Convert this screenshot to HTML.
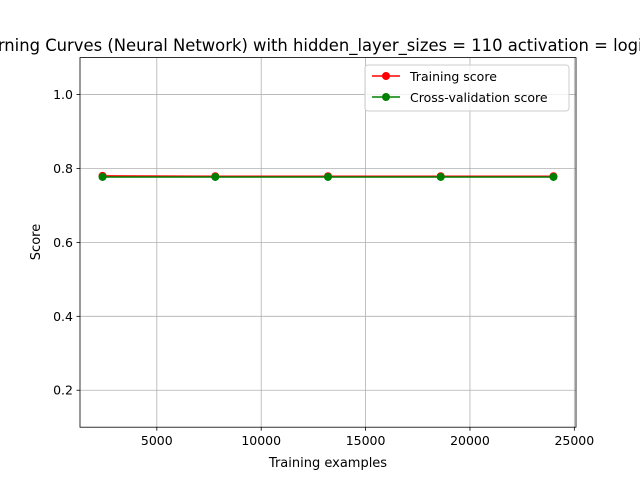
<!DOCTYPE html>
<html><head><meta charset="utf-8"><style>
body{margin:0;background:#fff;width:640px;height:480px;overflow:hidden}
svg{font-family:"DejaVu Sans","Liberation Sans",sans-serif}
</style></head><body>
<svg id="chart" width="640" height="480" xmlns="http://www.w3.org/2000/svg">
<rect width="640" height="480" fill="#fff"/>
<g id="grid"></g>
<g id="bands"></g>
<g id="series"></g>
<rect x="80" y="57.6" width="496" height="369.6" fill="none" stroke="#000" stroke-width="0.8"/>
<g id="ticks" font-size="12.5"></g>
<text x="320" y="51" text-anchor="middle" font-size="16.4">Learning Curves (Neural Network) with hidden_layer_sizes = 110 activation = logistic</text>
<text x="328" y="467" text-anchor="middle" font-size="13">Training examples</text>
<text transform="translate(40,242) rotate(-90)" text-anchor="middle" font-size="13">Score</text>
<g>
<rect x="365" y="65" width="204" height="46" rx="3" fill="#fff" fill-opacity="0.8" stroke="#ccc"/>
<line x1="372" y1="76" x2="400" y2="76" stroke="red" stroke-width="1.5"/><circle cx="386" cy="76" r="4" fill="red"/>
<text x="410" y="81" font-size="12.5">Training score</text>
<line x1="372" y1="97" x2="400" y2="97" stroke="green" stroke-width="1.5"/><circle cx="386" cy="97" r="4" fill="green"/>
<text x="410" y="102" font-size="12.5">Cross-validation score</text>
</g>
</svg>
<script>
const trainSizes=[2400,7800,13200,18600,24000];
const trainScores=[0.780,0.779,0.779,0.779,0.779];
const trainStd=[0.003,0.001,0.001,0.001,0.001];
const cvScores=[0.777,0.777,0.777,0.777,0.777];
const cvStd=[0.002,0.002,0.002,0.002,0.002];
const xTicks=[5000,10000,15000,20000,25000];
const yTicks=[0.2,0.4,0.6,0.8,1.0];
const NS="http://www.w3.org/2000/svg";
const L=80,R=576,T=57.6,B=427.2,x0=1320,x1=25080,y0=0.1,y1=1.1;
const X=v=>L+(v-x0)/(x1-x0)*(R-L);
const Y=v=>B-(v-y0)/(y1-y0)*(B-T);
function mk(tag,attrs,parent){const e=document.createElementNS(NS,tag);for(const k in attrs)e.setAttribute(k,attrs[k]);document.getElementById(parent).appendChild(e);return e;}
xTicks.forEach(t=>{
 const g=mk('line',{x1:X(t),x2:X(t),y1:T,y2:B,stroke:'#b0b0b0','stroke-width':0.8},'grid');
 
 
 const tk=mk('line',{x1:X(t),x2:X(t),y1:B,y2:B+3.5,stroke:'#000','stroke-width':0.8},'ticks');
 
 
 const tx=mk('text',{x:X(t),y:B+18,'text-anchor':'middle'},'ticks');
 
 
 tx.textContent=t;
});
yTicks.forEach(t=>{
 const g=mk('line',{x1:L,x2:R,y1:Y(t),y2:Y(t),stroke:'#b0b0b0','stroke-width':0.8},'grid');
 
 
 const tk=mk('line',{x1:L-3.5,x2:L,y1:Y(t),y2:Y(t),stroke:'#000','stroke-width':0.8},'ticks');
 
 
 const tx=mk('text',{x:L-7,y:Y(t)+4.5,'text-anchor':'end'},'ticks');
 
 
 tx.textContent=t.toFixed(1);
});
function band(m,s,color,name){
 const up=trainSizes.map((x,i)=>X(x)+','+Y(m[i]+s[i]));
 const dn=trainSizes.map((x,i)=>X(x)+','+Y(m[i]-s[i])).reverse();
 const p=mk('polygon',{points:up.concat(dn).join(' '),fill:color,'fill-opacity':0.1},'bands');
 
 
}
band(trainScores,trainStd,'red','training-band');
band(cvScores,cvStd,'green','cv-band');
function line(m,color,name){
 const l=mk('polyline',{points:trainSizes.map((x,i)=>X(x)+','+Y(m[i])).join(' '),fill:'none',stroke:color,'stroke-width':1.5},'series');
 
 
 trainSizes.forEach((x,i)=>{
  const c=mk('circle',{cx:X(x),cy:Y(m[i]),r:4,fill:color},'series');
  
  
 });
}
line(trainScores,'red','training');
line(cvScores,'green','cv');
</script>
</body></html>
